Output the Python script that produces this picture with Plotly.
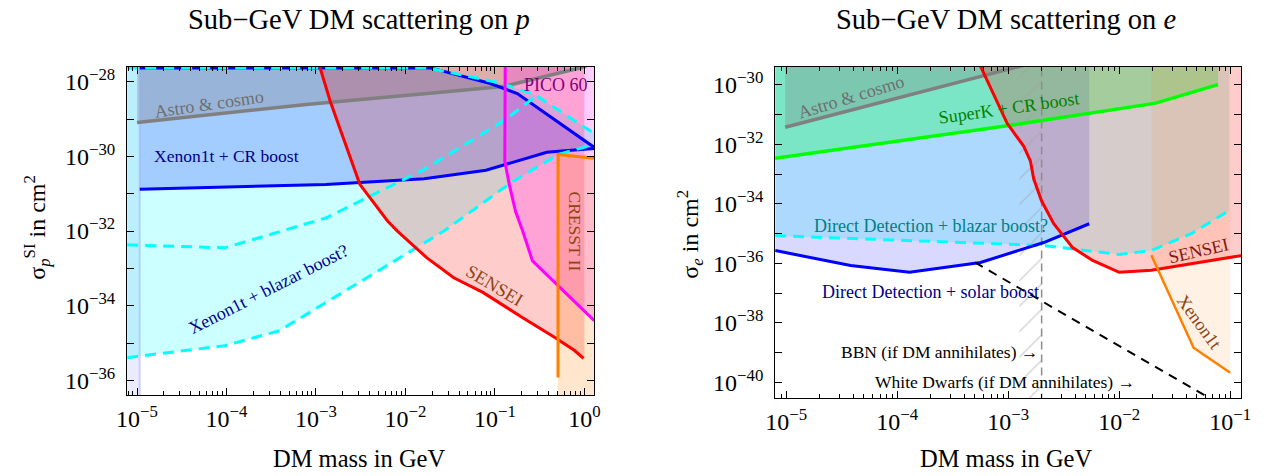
import numpy as np
import plotly.graph_objects as go

# ---------------- data (log10 of mass in GeV, log10 of cross section in cm^2) ----------------
# Left panel: DM-proton scattering
p_strip_m = [-5.3, -4.97]
p_astro_m = [-5.0, -3.11, -1.79, -0.91, -0.03, 0.3]
p_astro_s = [-29.09, -28.61, -28.32, -28.13, -27.62, -27.3]

p_cr_low_m = [-4.97, -2.89, -1.79, -1.10, -0.42, -0.29, 0.11]
p_cr_low_s = [-30.88, -30.75, -30.6, -30.37, -29.89, -29.86, -29.79]
p_cr_up_m = [-4.97, -1.72, -1.05, -0.75, 0.11]
p_cr_up_s = [-27.63, -27.63, -28.05, -28.32, -29.76]

p_bl_low_m = [-5.11, -4.02, -3.41, -1.57, -0.80, -0.29, 0.11]
p_bl_low_s = [-35.39, -35.07, -34.67, -32.0, -30.67, -29.95, -29.68]
p_bl_up_m = [-5.11, -1.75, -0.95, -0.55, 0.11]
p_bl_up_s = [-27.63, -27.63, -28.03, -28.35, -29.39]
p_bl_mid_m = [-5.11, -4.02, -2.89, -1.79, -0.88, -0.55]
p_bl_mid_s = [-32.37, -32.45, -31.65, -30.35, -29.01, -28.4]

p_sensei_m = [-2.97, -2.84, -2.51, -2.20, -2.09, -1.76, -1.46, -1.13, -0.69, -0.33, -0.11, -0.01]
p_sensei_s = [-27.5, -28.53, -30.75, -31.73, -32.0, -32.72, -33.25, -33.65, -34.32, -34.85, -35.2, -35.41]

p_pico_m = [-0.885, -0.89, -0.84, -0.77, -0.69, -0.58, 0.11]
p_pico_s = [-27.5, -30.13, -30.75, -31.47, -32.0, -32.8, -34.4]

p_cresst_m = [-0.295, -0.295, 0.11]
p_cresst_s = [-35.92, -29.95, -30.05]

# Right panel: DM-electron scattering
e_astro_m = [-5.01, -3.30, -2.6]
e_astro_s = [-31.43, -29.79, -29.1]
e_superk_m = [-5.1, -3.30, -2.86, -1.68, -1.11]
e_superk_s = [-32.47, -31.53, -31.3, -30.63, -30.0]
e_solar_m = [-5.1, -4.42, -3.89, -3.25, -2.68, -2.27]
e_solar_s = [-35.57, -36.07, -36.3, -35.97, -35.3, -34.67]
e_blazar_m = [-5.1, -3.30, -2.68, -2.0, -1.71, -1.35, -1.01]
e_blazar_s = [-35.07, -35.33, -35.4, -35.7, -35.57, -35.0, -34.23]
e_sensei_m = [-3.26, -3.01, -2.86, -2.80, -2.77, -2.70, -2.59, -2.42, -2.24, -2.0, -1.71, -0.89]
e_sensei_s = [-29.3, -31.3, -32.07, -32.57, -33.17, -33.9, -34.67, -35.47, -35.9, -36.3, -36.23, -35.73]
e_xenon_m = [-1.71, -1.33, -1.0]
e_xenon_s = [-35.73, -38.83, -39.67]
e_bbn_m = [-3.30, -1.0]
e_bbn_s = [-35.97, -40.92]
e_wd_m = -2.699      # 2 MeV bound
e_hatch_m = -2.9

TOP, BOT = -20.0, -45.0
SERIF = "Liberation Serif"

# page is shown with an 8px body margin: figure is 1260x468 placed at (8, 8)
W, H, OFF = 1260, 468, 8


def fx(px):
    return (px - OFF) / W


def fy(py):
    return 1 - (py - OFF) / H


def P(v):
    return list(10.0 ** np.asarray(v, dtype=float))


fig = go.Figure()


def fill(xa, ya, m, s, color, pattern=None):
    kw = dict(x=P(m), y=P(s), mode="lines", fill="toself", fillcolor=color,
              line=dict(width=0), hoverinfo="skip", showlegend=False, xaxis=xa, yaxis=ya)
    if pattern:
        kw["fillpattern"] = pattern
    fig.add_trace(go.Scatter(**kw))


def line(xa, ya, m, s, color, width=3, dash=None):
    fig.add_trace(go.Scatter(x=P(m), y=P(s), mode="lines",
                             line=dict(color=color, width=width, dash=dash),
                             hoverinfo="skip", showlegend=False, xaxis=xa, yaxis=ya))


def above(m, s, right=None):
    r = m[-1] if right is None else right
    mm = list(m) + ([r] if right is not None else []) + [r, m[0]]
    ss = list(s) + ([s[-1]] if right is not None else []) + [TOP, TOP]
    return mm, ss


CYAN_F = "rgba(0,255,255,0.2)"
BLUE_F = "rgba(0,0,255,0.2)"
GRAY_F = "rgba(128,128,128,0.3)"
RED_F = "rgba(255,0,0,0.2)"
MAG_F = "rgba(255,0,255,0.2)"
ORA_F = "rgba(255,128,0,0.2)"
DASH = "11px,7px"

# ---------- left panel fills ----------
fill("x", "y", [p_strip_m[0], p_strip_m[1], p_strip_m[1], p_strip_m[0]], [BOT, BOT, TOP, TOP],
     "rgba(170,180,250,0.25)")
fill("x", "y", p_bl_low_m + p_bl_up_m[::-1], p_bl_low_s + p_bl_up_s[::-1], CYAN_F)
fill("x", "y", p_cr_low_m + p_cr_up_m[::-1], p_cr_low_s + p_cr_up_s[::-1], BLUE_F)
m, s = above(p_astro_m, p_astro_s)
fill("x", "y", m, s, GRAY_F)
m, s = above(p_sensei_m, p_sensei_s, right=0.0)
fill("x", "y", m, s, RED_F)
m, s = above(p_pico_m, p_pico_s, right=0.5)
fill("x", "y", m, s, MAG_F)
fill("x", "y", [p_cresst_m[0]] + p_cresst_m + [0.5, 0.5],
     [BOT] + p_cresst_s + [p_cresst_s[-1], BOT], ORA_F)

# ---------- left panel lines ----------
line("x", "y", [p_strip_m[1], p_strip_m[1]], [BOT, TOP], "rgba(150,160,255,0.45)", 2)
line("x", "y", p_astro_m, p_astro_s, "rgb(128,128,128)", 3.5)
line("x", "y", p_cr_low_m, p_cr_low_s, "rgb(0,0,255)", 3)
line("x", "y", p_cr_up_m, p_cr_up_s, "rgb(0,0,255)", 3)
line("x", "y", p_bl_low_m, p_bl_low_s, "rgb(0,255,255)", 3, DASH)
line("x", "y", p_bl_up_m, p_bl_up_s, "rgb(0,255,255)", 3, DASH)
line("x", "y", p_bl_mid_m, p_bl_mid_s, "rgb(0,255,255)", 3, DASH)
line("x", "y", p_sensei_m, p_sensei_s, "rgb(255,0,0)", 3)
line("x", "y", p_pico_m, p_pico_s, "rgb(255,0,255)", 3)
line("x", "y", p_cresst_m, p_cresst_s, "rgb(255,128,0)", 3)

# ---------- right panel fills ----------
m, s = above(e_blazar_m, e_blazar_s)
fill("x2", "y2", m, s, CYAN_F)
m, s = above(e_solar_m, e_solar_s)
fill("x2", "y2", m, s, "rgba(0,0,255,0.15)")
m, s = above(e_superk_m, e_superk_s)
fill("x2", "y2", m, s, "rgba(30,255,88,0.35)")
m, s = above(e_astro_m, e_astro_s)
fill("x2", "y2", m, s, GRAY_F)
m, s = above(e_sensei_m, e_sensei_s, right=-0.5)
fill("x2", "y2", m, s, RED_F)
m, s = above(e_xenon_m, e_xenon_s)
fill("x2", "y2", m, s, "rgba(255,128,0,0.1)")
fill("x2", "y2", [e_hatch_m, e_wd_m, e_wd_m, e_hatch_m], [BOT, BOT, TOP, TOP],
     "rgba(0,0,0,0)",
     pattern=dict(shape="/", fgcolor="rgb(160,160,160)", bgcolor="rgba(0,0,0,0)",
                  size=18, solidity=0.07))

# ---------- right panel lines ----------
line("x2", "y2", [e_wd_m, e_wd_m], [BOT, TOP], "rgb(140,140,140)", 1.5, "8px,5px")
line("x2", "y2", e_astro_m, e_astro_s, "rgb(128,128,128)", 3.5)
line("x2", "y2", e_superk_m, e_superk_s, "rgb(0,255,0)", 3.5)
line("x2", "y2", e_blazar_m, e_blazar_s, "rgb(0,255,255)", 3, DASH)
line("x2", "y2", e_solar_m, e_solar_s, "rgb(0,0,255)", 3)
line("x2", "y2", e_sensei_m, e_sensei_s, "rgb(255,0,0)", 3)
line("x2", "y2", e_xenon_m, e_xenon_s, "rgb(255,128,0)", 2.5)
line("x2", "y2", e_bbn_m, e_bbn_s, "black", 2, "9px,7px")

# ---------- axes ----------
def sup(e):
    return "10<sup>\u2212%d</sup>" % (-e) if e < 0 else "10<sup>%d</sup>" % e


def minor_vals(lo, hi):
    return [k * 10.0 ** d for d in range(lo, hi) for k in range(2, 10)]


axis_common = dict(type="log", showline=True, linecolor="black", linewidth=1.2,
                   mirror="ticks", ticks="inside", ticklen=7, tickwidth=1.2,
                   tickcolor="black", showgrid=False, zeroline=False,
                   tickfont=dict(family=SERIF, size=24, color="black"))

px_dec = list(range(-5, 1))
ex_dec = list(range(-5, 0))
py_lab = list(range(-36, -27, 2))
py_odd = list(range(-35, -27, 2))
ey_lab = list(range(-40, -29, 2))
ey_odd = list(range(-39, -29, 2))

xminor = dict(ticks="inside", ticklen=4, tickcolor="black", tickwidth=1,
              tickmode="array", showgrid=False)
yminor = dict(ticks="inside", ticklen=7, tickcolor="black", tickwidth=1.2,
              tickmode="array", showgrid=False)

fig.update_layout(
    width=W, height=H, margin=dict(l=0, r=0, t=0, b=0),
    paper_bgcolor="white", plot_bgcolor="white", showlegend=False,
    xaxis=dict(axis_common, domain=[fx(118), fx(593)], range=[-5.11, 0.11], anchor="y",
               tickvals=P(px_dec), ticktext=[sup(e) for e in px_dec], ticklabelstandoff=2,
               minor=dict(xminor, tickvals=minor_vals(-6, 1))),
    yaxis=dict(axis_common, domain=[fy(395), fy(65)], range=[-36.4, -27.6], anchor="x",
               tickvals=P(py_lab), ticktext=[sup(e) for e in py_lab], ticklabelstandoff=6,
               minor=dict(yminor, tickvals=P(py_odd))),
    xaxis2=dict(axis_common, domain=[fx(777), fx(1251)], range=[-5.1, -0.9], anchor="y2",
                tickvals=P(ex_dec), ticktext=[sup(e) for e in ex_dec], ticklabelstandoff=2,
                minor=dict(xminor, tickvals=minor_vals(-6, 0))),
    yaxis2=dict(axis_common, domain=[fy(398), fy(65)], range=[-40.53, -29.4], anchor="x2",
                tickvals=P(ey_lab), ticktext=[sup(e) for e in ey_lab], ticklabelstandoff=6,
                minor=dict(yminor, tickvals=P(ey_odd))),
)

# ---------- text ----------
def note(text, x, y, xref, yref, size, color, angle=0, xanchor="center"):
    fig.add_annotation(text=text, x=x, y=y, xref=xref, yref=yref, showarrow=False,
                       textangle=angle, xanchor=xanchor, yanchor="middle",
                       font=dict(family=SERIF, size=size, color=color))


note("Sub\u2212GeV DM scattering on <i>p</i>", fx(354), fy(18), "paper", "paper", 28.5, "black")
note("Sub\u2212GeV DM scattering on <i>e</i>", fx(1012), fy(18), "paper", "paper", 28.5, "black")
note("DM mass in GeV", fx(354), fy(458), "paper", "paper", 24.5, "black")
note("DM mass in GeV", fx(1012), fy(458), "paper", "paper", 24.5, "black")
note("σ<sub><i>p</i></sub><sup>SI</sup> in cm<sup>2</sup>", fx(26), fy(226), "paper", "paper", 24, "black", -90)
note("σ<sub><i>e</i></sub> in cm<sup>2</sup>", fx(690), fy(233), "paper", "paper", 24, "black", -90)

note("Astro & cosmo", -4.19, -28.59, "x", "y", 18, "rgb(110,110,110)", -8)
note("Xenon1t + CR boost", -4.0, -30.0, "x", "y", 17.5, "rgb(0,0,140)")
note("Xenon1t + blazar boost?", -3.53, -33.55, "x", "y", 18, "rgb(0,0,140)", -27)
note("SENSEI", -1.0, -33.47, "x", "y", 18.5, "rgb(140,70,20)", 31)
note("PICO 60", -0.32, -28.08, "x", "y", 18, "rgb(128,0,128)")
note("CRESST II", -0.11, -32.0, "x", "y", 17.5, "rgb(140,70,20)", 90)

note("Astro & cosmo", -4.42, -30.4, "x2", "y2", 18, "rgb(110,110,110)", -17)
note("SuperK + CR boost", -2.99, -30.77, "x2", "y2", 18, "rgb(0,128,0)", -8)
note("Direct Detection + blazar boost?", -3.70, -34.73, "x2", "y2", 18, "rgb(0,128,128)")
note("Direct Detection + solar boost", -3.70, -36.97, "x2", "y2", 18, "rgb(0,0,140)")
note("SENSEI", -1.29, -35.57, "x2", "y2", 18, "rgb(128,20,20)", -13)
note("Xenon1t", -1.28, -37.97, "x2", "y2", 18, "rgb(140,70,20)", 54)
note("BBN (if DM annihilates) \u2192", -2.71, -38.97, "x2", "y2", 17.5, "black", xanchor="right")
note("White Dwarfs (if DM annihilates) \u2192", -1.84, -39.97, "x2", "y2", 17.5, "black", xanchor="right")

fig.write_html("out.html")
